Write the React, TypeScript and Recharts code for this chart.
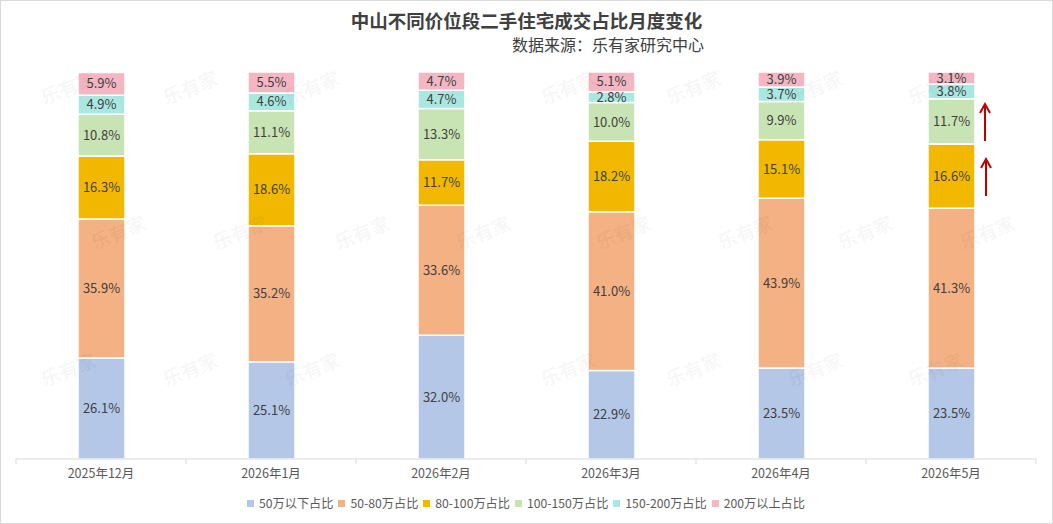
import React from 'react';
import { BarChart, Bar, XAxis, YAxis, Legend, LabelList } from 'recharts';

const months = ['2025年12月', '2026年1月', '2026年2月', '2026年3月', '2026年4月', '2026年5月'];
const below50 = [26.1, 25.1, 32.0, 22.9, 23.5, 23.5];
const from50to80 = [35.9, 35.2, 33.6, 41.0, 43.9, 41.3];
const from80to100 = [16.3, 18.6, 11.7, 18.2, 15.1, 16.6];
const from100to150 = [10.8, 11.1, 13.3, 10.0, 9.9, 11.7];
const from150to200 = [4.9, 4.6, 4.7, 2.8, 3.7, 3.8];
const above200 = [5.9, 5.5, 4.7, 5.1, 3.9, 3.1];

const seriesNames = ['50万以下占比', '50-80万占比', '80-100万占比', '100-150万占比', '150-200万占比', '200万以上占比'];
const seriesValues = [below50, from50to80, from80to100, from100to150, from150to200, above200];
const colors = ['#B4C7E7', '#F4B183', '#F2B800', '#C9E4B4', '#A9E8E0', '#F4B6C2'];

const data = months.map((m, i) => {
  const row: Record<string, any> = { month: m };
  seriesNames.forEach((n, k) => {
    row[n] = seriesValues[k][i];
  });
  return row;
});

const W = 1053;
const H = 524;
const margin = { top: 72, right: 17, left: 16, bottom: 0 };
const band = (W - margin.left - margin.right) / months.length;

const watermarks = [
  [68, 90], [190, 90], [312, 90], [568, 90], [693, 90], [815, 90], [935, 90],
  [118, 235], [240, 235], [362, 235], [483, 235], [623, 235], [745, 235], [865, 235], [987, 235],
  [68, 372], [190, 372], [312, 372], [568, 372], [693, 372], [815, 372], [935, 372],
];

const Tick = (props: any) => {
  const { x, y, payload, index } = props;
  const left = x - band / 2;
  const right = x + band / 2;
  return (
    <g>
      <line x1={left} x2={left} y1={y} y2={y + 5} stroke="#d9d9d9" />
      {index === months.length - 1 && <line x1={right} x2={right} y1={y} y2={y + 5} stroke="#d9d9d9" />}
      <text x={x} y={y + 19} textAnchor="middle" fill="#595959" fontSize={12.5}>
        {payload.value}
      </text>
    </g>
  );
};

const LegendContent = () => (
  <div style={{ display: 'flex', justifyContent: 'center', alignItems: 'center', height: 22, fontSize: 12.2, color: '#595959' }}>
    {seriesNames.map((n, k) => (
      <div key={n} style={{ display: 'flex', alignItems: 'center', marginRight: k === seriesNames.length - 1 ? 0 : 5 }}>
        <span style={{ display: 'inline-block', width: 7, height: 7, background: colors[k], marginRight: 5 }} />
        <span>{n}</span>
      </div>
    ))}
  </div>
);

const fmt = (v: any) => `${Number(v).toFixed(1)}%`;

export default function App() {
  return (
    <div
      style={{
        position: 'absolute',
        left: 0,
        top: 0,
        width: W,
        height: H,
        background: '#fff',
        fontFamily: "'Noto Sans CJK SC', 'Noto Sans', sans-serif",
      }}
    >
      <BarChart width={W} height={H} data={data} margin={margin} barSize={47}>
        <XAxis
          dataKey="month"
          axisLine={{ stroke: '#d9d9d9' }}
          tickLine={false}
          tickSize={0}
          tickMargin={0}
          height={33}
          interval={0}
          tick={<Tick />}
        />
        <YAxis hide domain={[0, 100]} allowDataOverflow />
        <Legend
          verticalAlign="bottom"
          align="center"
          content={<LegendContent />}
          wrapperStyle={{ height: 32 }}
        />
        {seriesNames.map((n, k) => (
          <Bar key={n} dataKey={n} name={n} stackId="a" fill={colors[k]} stroke="#fff" strokeWidth={1.5} isAnimationActive={false}>
            <LabelList dataKey={n} position="center" formatter={fmt} fill="#404040" fontSize={13} />
          </Bar>
        ))}
      </BarChart>
      {watermarks.map(([x, y], i) => (
        <div
          key={i}
          style={{
            position: 'absolute',
            left: x - 30,
            top: y - 14,
            width: 60,
            textAlign: 'center',
            transform: 'rotate(-22deg)',
            color: 'rgba(0,0,0,0.05)',
            fontSize: 19,
            fontWeight: 700,
            pointerEvents: 'none',
            lineHeight: '22px',
          }}
        >
          乐有家
        </div>
      ))}
      <svg width={W} height={H} style={{ position: 'absolute', left: 0, top: 0, pointerEvents: 'none' }}>
        <g stroke="#C00000" strokeWidth={2} fill="none">
          <line x1={985} y1={141} x2={985} y2={104} />
          <polyline points="980,113 985,104 990,113" />
          <line x1={986} y1={196} x2={986} y2={159} />
          <polyline points="981,168 986,159 991,168" />
        </g>
      </svg>
      <div
        style={{
          position: 'absolute',
          left: 0,
          top: 7,
          width: W,
          textAlign: 'center',
          fontSize: 18.5,
          fontWeight: 700,
          color: '#404040',
          lineHeight: '26px',
        }}
      >
        中山不同价位段二手住宅成交占比月度变化
      </div>
      <div
        style={{
          position: 'absolute',
          right: W - 704,
          top: 33,
          fontSize: 16,
          color: '#404040',
          lineHeight: '22px',
          whiteSpace: 'nowrap',
        }}
      >
        数据来源：乐有家研究中心
      </div>
      <div
        style={{
          position: 'absolute',
          left: 0,
          top: 0,
          width: W,
          height: H,
          border: '1px solid #d9d9d9',
          boxSizing: 'border-box',
          pointerEvents: 'none',
        }}
      />
    </div>
  );
}
